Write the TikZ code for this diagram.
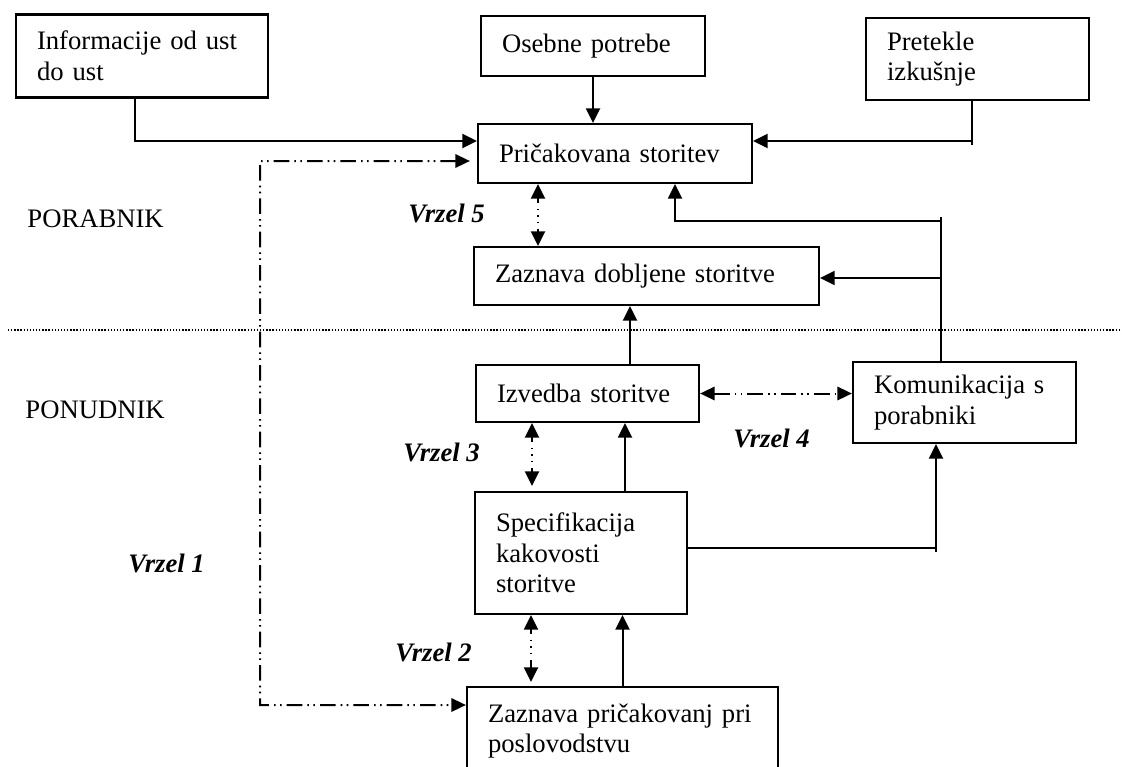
\documentclass[tikz,border=0pt]{standalone}
\usepackage{fontspec}
\setmainfont{Liberation Serif}
\usetikzlibrary{arrows.meta,calc}
\begin{document}
\begin{tikzpicture}[x=0.45pt,y=-0.45pt,
  every node/.style={font=\fontsize{12}{13.8}\selectfont},
  blk/.style={draw,line width=1pt,align=left,inner xsep=9.45pt,inner ysep=0pt,anchor=center},
  ln/.style={line width=0.9pt},
  arr/.style={ln,-{Triangle[length=6.5pt,width=6.3pt]}},
  dd/.style={ln,dash pattern=on 7pt off 2.3pt on 0.7pt off 2pt on 0.7pt off 2.3pt,
    {Triangle[length=6.5pt,width=6pt]}-{Triangle[length=6.5pt,width=6pt]}},
  gapv/.style={ln,dash pattern=on 2.2pt off 2.5pt on 0.6pt off 2.4pt on 0.6pt off 2.4pt on 0.6pt off 2.5pt on 6pt off 30pt,
    {Triangle[length=6.5pt,width=6.3pt]}-{Triangle[length=6.5pt,width=6.3pt]}},
  lbl/.style={anchor=west,inner sep=0pt},
  vr/.style={lbl,font=\fontsize{12}{13.8}\selectfont\bfseries\itshape}]
\useasboundingbox (0,0) rectangle (1122,766);

% boxes
\node[blk,text width=94.5pt,minimum height=37.35pt] (info) at (142,56) {Informacije od ust\\do ust};
\node[blk,text width=81.9pt,minimum height=27pt] (osebne) at (593,46) {Osebne potrebe};
\node[blk,text width=81.45pt,minimum height=36.9pt] (pretekle) at (977.5,59) {Pretekle\\izkušnje};
\node[blk,text width=104.4pt,minimum height=26.55pt] (pric) at (615,153.5) {Pričakovana storitev};
\node[blk,text width=136.35pt,minimum height=26.1pt] (zdob) at (646.5,276) {Zaznava dobljene storitve};
\node[blk,text width=81.45pt,minimum height=25.65pt] (izv) at (587.5,393.5) {Izvedba storitve};
\node[blk,text width=81.45pt,minimum height=36.45pt] (kom) at (964.5,402.5) {Komunikacija s\\porabniki};
\node[blk,text width=76.5pt,minimum height=54.9pt] (spec) at (581,553) {Specifikacija\\kakovosti\\storitve};
\node[blk,text width=121.05pt,minimum height=39.6pt] (zpric) at (622.5,731) {Zaznava pričakovanj pri\\poslovodstvu};

% side labels
\node[lbl] (porab) at (27,219) {PORABNIK};
\node[lbl] (ponud) at (25,410) {PONUDNIK};
\node[vr] (vz5) at (408,213) {Vrzel 5};
\node[vr] (vz3) at (403,452) {Vrzel 3};
\node[vr] (vz4) at (733,438) {Vrzel 4};
\node[vr] (vz1) at (128,563) {Vrzel 1};
\node[vr] (vz2) at (395,652) {Vrzel 2};

% separator between customer and provider
\coordinate (sepL) at (8,330);
\coordinate (sepR) at (1122,330);
\draw[line width=0.5pt,dash pattern=on 0.6pt off 0.8pt] (sepL) -- (sepR);

% inputs to the expected service
\draw[arr] ([shift={(-7,0)}]info.south) |- ([shift={(0,-12.5)}]pric.west);
\draw[arr] (osebne.south) -- (osebne.south |- pric.north);
\coordinate (pj) at (972,141);
\draw[arr] ([shift={(-5.5,0)}]pretekle.south) |- ([shift={(0,-12.5)}]pric.east);
\draw[ln] (pj) -- ++(0,4);

% gap 1
\coordinate (g1) at (260,161);
\draw[dd,shorten <=3.15pt] ([shift={(0,7.5)}]pric.west) -- (g1) |- ([shift={(0,-26)}]zpric.west);

% gap 5
\coordinate (v5) at ([shift={(-77,0)}]pric.south);
\draw[gapv] (v5) -- (v5 |- zdob.north);

% communication feedback
\coordinate (kA) at (941,221);
\coordinate (kB) at (941,278);
\draw[ln] (kom.north -| kA) -- ([shift={(0,-4)}]kA);
\draw[arr] (kA) -| ([shift={(60,0)}]pric.south);
\draw[arr] (kB) -- (kB -| zdob.east);

% delivery to perception
\coordinate (c6) at ([shift={(42.5,0)}]izv.north);
\draw[arr] (c6) -- (c6 |- zdob.south);

% gap 4
\draw[dd] (izv.east) -- (izv.east -| kom.west);

% gap 3
\coordinate (v3) at ([shift={(-55.5,0)}]izv.south);
\draw[gapv,shorten >=2.25pt] (v3) -- (v3 |- spec.north);
\coordinate (c7) at ([shift={(44,0)}]spec.north);
\draw[arr] (c7) -- (c7 |- izv.south);

% specification to communication
\coordinate (kC) at (936,548);
\draw[arr] ([shift={(0,-5)}]spec.east) -- (kC) -- (kC |- kom.south);
\draw[ln] (kC) -- ++(0,4);

% gap 2
\coordinate (v2) at ([shift={(-50,0)}]spec.south);
\draw[gapv,shorten >=1.8pt] (v2) -- (v2 |- zpric.north);
\draw[arr] (zpric.north) -- (zpric.north |- spec.south);
\end{tikzpicture}
\end{document}
